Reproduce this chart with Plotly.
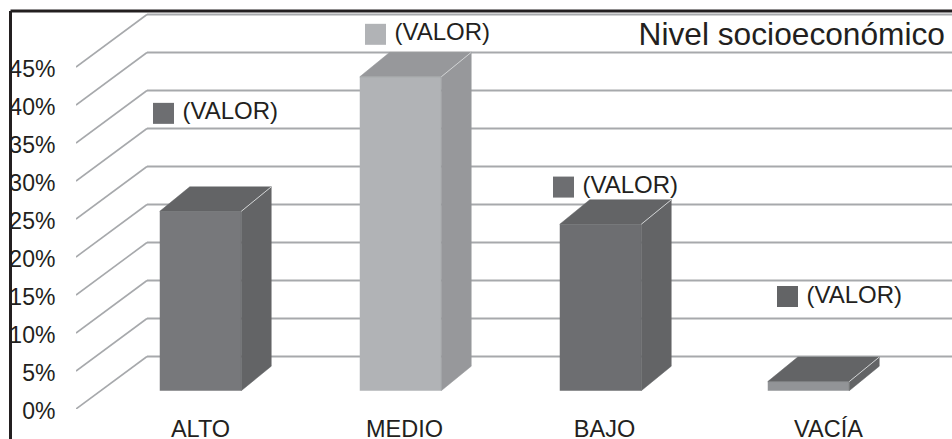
import plotly.graph_objects as go

# --- data ---
categories = ["ALTO", "MEDIO", "BAJO", "VACÍA"]
values = [23.6, 41.3, 21.9, 1.2]
tick_values = [0, 5, 10, 15, 20, 25, 30, 35, 40, 45]
tick_labels = ["0%", "5%", "10%", "15%", "20%", "25%", "30%", "35%", "40%", "45%"]
value_labels = ["(VALOR)", "(VALOR)", "(VALOR)", "(VALOR)"]

# --- layout / style constants ---
bar_x = [0, 1, 2, 3.04]
label_tick_x = [0, 1.02, 2.02, 3.14]
tag_x = [-0.185, 0.875, 1.815, 2.935]
tag_y = [38.9, 49.3, 29.2, 14.8]
front_colors = ["#77787b", "#b1b3b6", "#6d6e71", "#929497"]
side_colors = ["#636466", "#97989b", "#636466", "#636466"]
top_colors = ["#636466", "#97989b", "#636466", "#636466"]
tag_colors = ["#6d6e71", "#b1b3b6", "#6d6e71", "#636466"]
GRID = "#a7a9ac"
INK = "#231f20"
FONT = "Liberation Sans"

PX_X = 200.0   # pixels per category unit
PX_Y = 7.6     # pixels per percentage point
W, H = 952, 439
ML, MB = 76, 30
X0 = -(200.5 - ML) / PX_X
X1 = X0 + (W - ML) / PX_X
Y1 = (H - MB) / PX_Y

BAR_W = 81.5 / PX_X
BASE = 18.3 / PX_Y
DX = 30 / PX_X
DY = 24.5 / PX_Y
WALL_DX = 71 / PX_X
WALL_DY = 52.5 / PX_Y

fig = go.Figure()

fig.add_trace(go.Bar(
    x=bar_x, y=values, base=BASE, width=BAR_W,
    marker=dict(color=front_colors, line=dict(width=0)),
    hoverinfo="skip",
))

for cx, v, sc, tc in zip(bar_x, values, side_colors, top_colors):
    xl, xr = cx - BAR_W / 2, cx + BAR_W / 2
    top = BASE + v
    # right side face
    fig.add_trace(go.Scatter(
        x=[xr, xr + DX, xr + DX, xr, xr],
        y=[BASE, BASE + DY, top + DY, top, BASE],
        mode="lines", fill="toself", fillcolor=sc,
        line=dict(color=sc, width=0.5), hoverinfo="skip",
    ))
    # top face
    fig.add_trace(go.Scatter(
        x=[xl, xr, xr + DX, xl + DX, xl],
        y=[top, top, top + DY, top + DY, top],
        mode="lines", fill="toself", fillcolor=tc,
        line=dict(color=tc, width=0.5), hoverinfo="skip",
    ))
    # light edge between top and side
    fig.add_trace(go.Scatter(
        x=[xr, xr + DX], y=[top, top + DY],
        mode="lines", line=dict(color="#d1d3d4", width=1), hoverinfo="skip",
    ))

fig.add_trace(go.Scatter(
    x=tag_x, y=tag_y, text=["\u2009" + s for s in value_labels], mode="markers+text",
    textposition="middle right",
    textfont=dict(family=FONT, size=24, color=INK),
    marker=dict(symbol="square", size=21, color=tag_colors, line=dict(width=0)),
    hoverinfo="skip",
))

shapes = []
for t in tick_values:
    shapes.append(dict(type="line", xref="x", yref="y", layer="below",
                       x0=X0, y0=t, x1=X0 + WALL_DX, y1=t + WALL_DY,
                       line=dict(color=GRID, width=1.6)))
    shapes.append(dict(type="line", xref="x", yref="y", layer="below",
                       x0=X0 + WALL_DX, y0=t + WALL_DY, x1=X1, y1=t + WALL_DY,
                       line=dict(color=GRID, width=2)))

# black frame, left and top
plot_w, plot_h = W - ML, H - MB
fx = (10.5 - ML) / plot_w
fy = 1 - 11 / plot_h
shapes.append(dict(type="line", xref="paper", yref="paper", x0=fx, x1=fx, y0=fy,
                   y1=-MB / plot_h, line=dict(color=INK, width=3)))
shapes.append(dict(type="line", xref="paper", yref="paper", x0=fx, x1=1, y0=fy,
                   y1=fy, line=dict(color=INK, width=3)))

fig.update_layout(
    width=W, height=H,
    margin=dict(l=ML, r=0, t=0, b=MB, pad=0),
    paper_bgcolor="white", plot_bgcolor="rgba(0,0,0,0)",
    showlegend=False,
    font=dict(family=FONT, color=INK),
    title=dict(text="Nivel socioeconómico", x=945 / W, xanchor="right",
               y=1 - 34 / H, yanchor="middle", xref="container", yref="container",
               font=dict(family=FONT, size=31.7, color=INK)),
    xaxis=dict(range=[X0, X1], tickmode="array", tickvals=label_tick_x, automargin=False,
               ticktext=categories, showgrid=False, zeroline=False, showline=False,
               ticks="", ticklabelstandoff=3,
               tickfont=dict(family=FONT, size=23.5, color=INK)),
    yaxis=dict(range=[0, Y1], tickmode="array", tickvals=tick_values, automargin=False,
               ticktext=tick_labels, showgrid=False, zeroline=False, showline=False,
               ticks="outside", ticklen=15, tickcolor="rgba(0,0,0,0)",
               ticklabelshift=2,
               tickfont=dict(family=FONT, size=23, color=INK)),
    shapes=shapes,
)

fig.write_html("out.html", config=dict(displayModeBar=False),
               post_script="document.body.style.margin='0';document.body.style.overflow='hidden';")
